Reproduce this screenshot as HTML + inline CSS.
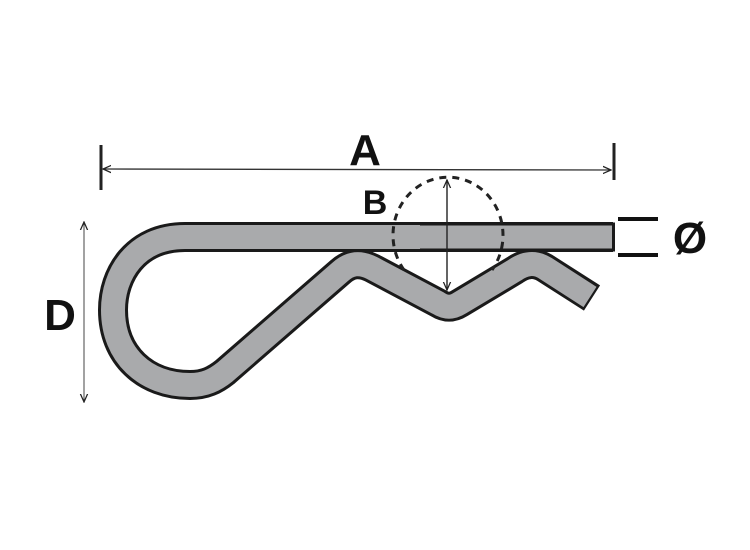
<!DOCTYPE html>
<html><head><style>body{margin:0;background:#fff}svg{display:block}</style></head><body>
<svg width="750" height="550" viewBox="0 0 750 550" xmlns="http://www.w3.org/2000/svg">
<defs>
<marker id="ar" viewBox="0 0 10 10" refX="9" refY="5" markerWidth="9" markerHeight="9" orient="auto-start-reverse" markerUnits="userSpaceOnUse"><path d="M0,1 L9,5 L0,9" fill="none" stroke="#222" stroke-width="1.4"/></marker>
</defs>
<g fill="none">
<path d="M613,237 L185,237 C135,237 113,275 113,310 C113,355 145,385 190,385 C205,385 215,380 225,372 L340,272 C350,263 360,262 372,268 L438,303 C446,308 452,308 460,303 L515,270 C525,263 535,262 545,268 L592,298" stroke="#1a1a1a" stroke-width="30" stroke-linejoin="round"/>
<path d="M613,237 L185,237 C135,237 113,275 113,310 C113,355 145,385 190,385 C205,385 215,380 225,372 L340,272 C350,263 360,262 372,268 L438,303 C446,308 452,308 460,303 L515,270 C525,263 535,262 545,268 L590,297" stroke="#a9aaac" stroke-width="24" stroke-linejoin="round"/>
<path d="M615,237 L420,237" stroke="#1a1a1a" stroke-width="29"/>
<path d="M612,237 L410,237" stroke="#a9aaac" stroke-width="23"/>
<path d="M404,270 A55,58 0 1 1 492,270" stroke="#222" stroke-width="3" stroke-dasharray="7,6"/>
</g>
<line x1="101" y1="145" x2="101" y2="190" stroke="#222" stroke-width="3"/>
<line x1="614" y1="143" x2="614" y2="180" stroke="#222" stroke-width="3"/>
<line x1="103" y1="169" x2="611" y2="170" stroke="#333" stroke-width="1.3" marker-start="url(#ar)" marker-end="url(#ar)"/>
<line x1="447" y1="180" x2="447" y2="290" stroke="#222" stroke-width="1.4" marker-start="url(#ar)" marker-end="url(#ar)"/>
<line x1="84" y1="222" x2="84" y2="402" stroke="#444" stroke-width="1" marker-start="url(#ar)" marker-end="url(#ar)"/>
<line x1="618" y1="219" x2="658" y2="219" stroke="#111" stroke-width="4"/>
<line x1="618" y1="255" x2="658" y2="255" stroke="#111" stroke-width="4"/>
<g font-family="Liberation Sans, sans-serif" font-weight="bold" fill="#111">
<text x="365" y="165" font-size="44" text-anchor="middle">A</text>
<text x="375" y="214" font-size="34" text-anchor="middle">B</text>
<text x="60" y="330" font-size="44" text-anchor="middle">D</text>
<text x="690" y="253" font-size="44" text-anchor="middle">Ø</text>
</g>
</svg>
</body></html>
